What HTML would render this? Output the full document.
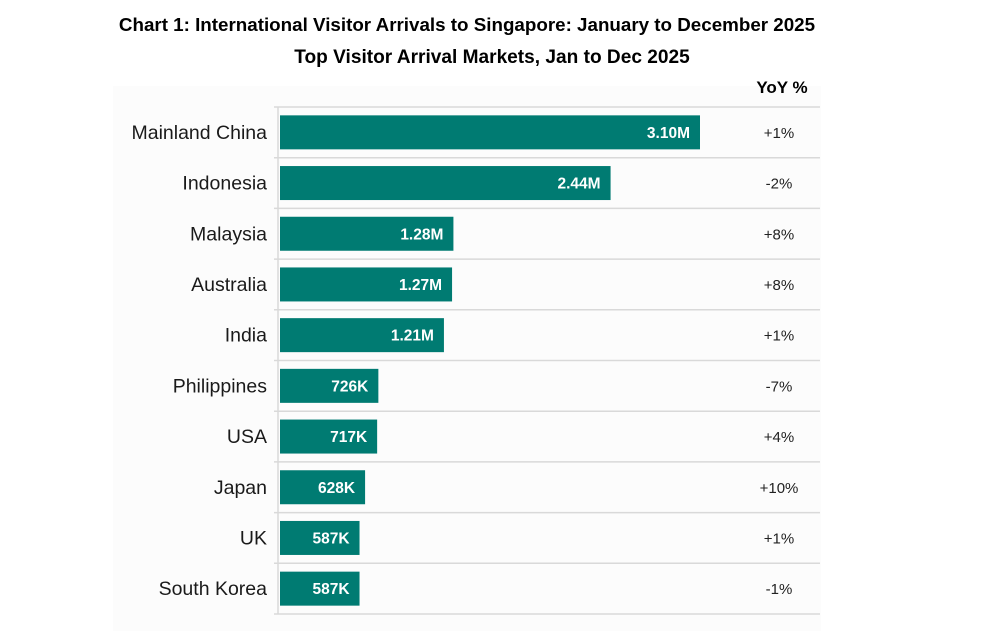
<!DOCTYPE html>
<html><head><meta charset="utf-8"><style>
body{margin:0;width:986px;height:638px;background:#fff;font-family:"Liberation Sans",Arial,sans-serif;overflow:hidden}
</style></head><body>
<svg width="986" height="638">
<rect x="113" y="86" width="708" height="545" fill="#fcfcfc"/>
<text x="467" y="31" text-anchor="middle" font-weight="bold" font-size="18.8" fill="#000">Chart 1: International Visitor Arrivals to Singapore: January to December 2025</text>
<text x="492" y="63" text-anchor="middle" font-weight="bold" font-size="19.1" fill="#000">Top Visitor Arrival Markets, Jan to Dec 2025</text>
<text x="782" y="93" text-anchor="middle" font-weight="bold" font-size="17" fill="#000">YoY %</text>
<g id="g"></g>
</svg>
<script>
const categories=["Mainland China","Indonesia","Malaysia","Australia","India","Philippines","USA","Japan","UK","South Korea"];
const values=[3.10,2.44,1.28,1.27,1.21,0.726,0.717,0.628,0.587,0.587];
const valueLabels=["3.10M","2.44M","1.28M","1.27M","1.21M","726K","717K","628K","587K","587K"];
const yoy=["+1%","-2%","+8%","+8%","+1%","-7%","+4%","+10%","+1%","-1%"];
const NS="http://www.w3.org/2000/svg",g=document.getElementById('g');
const x0=280,plotTop=107,plotBottom=614,band=(plotBottom-plotTop)/categories.length;
const xs=v=>x0+v*(420/3.10);
function mk(t,a){const e=document.createElementNS(NS,t);for(const k in a)e.setAttribute(k,a[k]);g.appendChild(e);return e;}
for(let i=0;i<=categories.length;i++){
 const l=mk('line',{x1:274,x2:820,y1:plotTop+i*band,y2:plotTop+i*band,stroke:'#d9d9d9','stroke-width':1.5});
 
 
}
const ax=mk('line',{x1:278,x2:278,y1:plotTop,y2:plotBottom,stroke:'#d9d9d9','stroke-width':1.5});


categories.forEach((c,i)=>{
 const cy=plotTop+band*(i+0.5);
 const b=mk('rect',{x:x0,y:cy-17,width:xs(values[i])-x0,height:34,fill:'#007b72'});
 
 
 const t=mk('text',{x:267,y:cy+6.5,'text-anchor':'end','font-size':19.5,fill:'#1a1a1a'});t.textContent=c;
 
 
 const v=mk('text',{x:xs(values[i])-10,y:cy+5.5,'text-anchor':'end','font-size':15.5,'font-weight':'bold',fill:'#fff'});v.textContent=valueLabels[i];
 
 
 const y=mk('text',{x:779,y:cy+5.5,'text-anchor':'middle','font-size':15,fill:'#222'});y.textContent=yoy[i];
 
 
});
</script>
</body></html>
